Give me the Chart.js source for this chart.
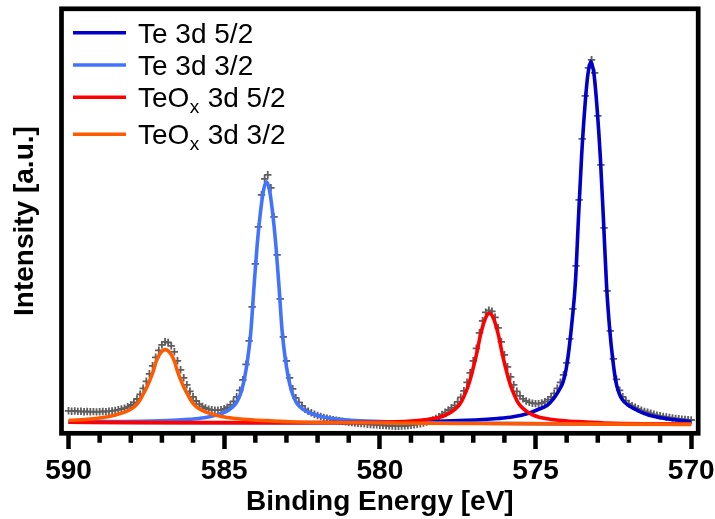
<!DOCTYPE html>
<html>
<head>
<meta charset="utf-8">
<script src="https://cdn.jsdelivr.net/npm/chart.js@4.4.1/dist/chart.umd.min.js"></script>
<style>
  html, body { margin: 0; padding: 0; background: #fff; }
  #wrap { width: 715px; height: 519px; }
</style>
</head>
<body>
<div id="wrap"><canvas id="xps" width="715" height="519"></canvas></div>
<script>
// Te 3d XPS spectrum, measured points every 0.1 eV from 590.0 down to 570.0
const dataStartEV = 590.0;
const dataStepEV = 0.1;
const measured = [
  20.0, 19.6, 19.8, 19.4, 19.5, 19.1, 19.3, 19.0, 19.2, 18.9,
  19.1, 19.3, 19.2, 19.6, 19.9, 20.4, 21.0, 21.8, 22.7, 24.0,
  25.8, 28.3, 31.8, 36.5, 42.5, 49.5, 57.0, 65.0, 73.5, 80.5,
  86.0, 89.0, 88.3, 85.0, 79.0, 70.0, 61.0, 53.0, 46.0, 39.5,
  34.0, 29.8, 26.6, 24.4, 22.8, 21.7, 21.0, 20.6, 20.6, 21.0,
  22.0, 23.6, 26.0, 29.5, 34.0, 40.5, 51.0, 66.5, 90.0, 124.0,
  167, 204, 236, 252, 256, 243, 214, 176, 132, 94,
  70, 53, 42, 33, 28.5, 25.0, 21.5, 19.5, 18.0, 16.5,
  15.3, 14.3, 13.4, 12.6, 11.9, 11.2, 10.6, 10.0, 9.5, 9.0,
  8.6, 8.2, 7.8, 7.5, 7.2, 6.9, 6.6, 6.3, 6.1, 5.9,
  5.6, 5.4, 5.2, 5.0, 4.8, 4.6, 4.6, 4.7, 4.9, 5.2,
  5.6, 6.0, 6.5, 7.1, 7.8, 8.7, 9.7, 10.9, 12.3, 14.0,
  16.3, 18.5, 20.8, 23.0, 25.5, 29.0, 33.5, 40.0, 48.5, 58.0,
  70.0, 82.5, 98.0, 110.0, 118.5, 120.5, 119.5, 113.5, 103.0, 89.0,
  76.0, 64.0, 54.0, 46.0, 39.5, 35.0, 32.0, 29.8, 28.5, 27.6,
  27.2, 27.2, 27.8, 29.2, 31.2, 34.0, 37.5, 42.5, 48.5, 56.0,
  68, 92, 122, 165, 231, 292, 335, 363, 371, 358,
  315, 266, 203, 140, 100, 72, 51.5, 40.5, 34.0, 30.2,
  27.0, 25.2, 23.5, 22.0, 20.5, 19.4, 18.5, 17.5, 16.5, 15.7,
  15.0, 14.4, 13.8, 13.3, 12.8, 12.4, 12.0, 11.6, 11.3, 11.0,
  10.8
];

// fitted components (energy in eV, intensity a.u.)
const te52E = [570.0, 570.72, 571.22, 571.52, 571.82, 572.02, 572.22, 572.32, 572.42, 572.52,
  572.62, 572.72, 572.82, 572.92, 573.02, 573.12, 573.22, 573.32, 573.42, 573.52,
  573.62, 573.72, 573.82, 573.92, 574.02, 574.12, 574.22, 574.42, 574.62, 574.92,
  575.22, 575.72, 576.22, 577.22, 579.22, 583.22, 590.0];
const te52 = [9.0, 11.8, 14.5, 17.5, 22.0, 25.5, 31.5, 38.0, 49.2, 71.5,
  102.5, 146.0, 212.5, 274.5, 321.5, 356.0, 369.5, 356.0, 321.7, 274.6,
  213.0, 147.9, 111.7, 82.8, 61.0, 48.4, 41.8, 32.1, 25.6, 21.3,
  17.6, 14.0, 12.3, 10.4, 8.7, 8.1, 8.5];

const te32E = [570.0, 573.64, 577.64, 579.64, 580.64, 581.14, 581.64, 581.94, 582.24, 582.44,
  582.64, 582.74, 582.84, 582.94, 583.04, 583.14, 583.24, 583.34, 583.44, 583.54,
  583.64, 583.74, 583.84, 583.94, 584.04, 584.14, 584.24, 584.34, 584.44, 584.54,
  584.64, 584.84, 585.04, 585.34, 585.64, 586.14, 586.64, 587.64, 589.64, 590.0];
const te32 = [6.5, 6.9, 7.8, 8.8, 9.9, 10.9, 12.7, 14.8, 17.6, 20.9,
  26.5, 31.8, 40.2, 53.4, 72.7, 100.3, 144.8, 185.7, 217.0, 240.0,
  249.0, 240.0, 217.2, 186.0, 145.0, 100.5, 73.0, 53.6, 40.4, 32.0,
  26.7, 21.1, 17.8, 15.1, 13.0, 11.4, 10.4, 9.5, 9.1, 9.0];

const teox52E = [570.0, 570.48, 572.48, 573.48, 573.98, 574.48, 574.68, 574.88, 575.08, 575.28,
  575.48, 575.58, 575.68, 575.78, 575.88, 575.98, 576.08, 576.18, 576.28, 576.38,
  576.48, 576.58, 576.68, 576.78, 576.88, 576.98, 577.08, 577.18, 577.28, 577.38,
  577.48, 577.68, 577.88, 578.08, 578.28, 578.48, 578.98, 579.48, 580.48, 582.48,
  586.48, 590.0];
const teox52 = [6.8, 6.9, 7.6, 9.0, 9.8, 11.3, 12.3, 13.6, 15.8, 19.3,
  24.8, 29.2, 35.8, 43.5, 53.4, 65.5, 78.7, 94.1, 106.2, 114.5,
  117.5, 114.5, 106.2, 94.1, 78.7, 65.5, 53.4, 43.5, 35.8, 29.2,
  24.8, 19.3, 15.8, 13.6, 12.3, 11.3, 9.8, 9.0, 8.4, 8.1,
  8.2, 8.5];

const teox32E = [570.0, 576.89, 580.89, 582.89, 583.89, 584.39, 584.89, 585.09, 585.29, 585.49,
  585.69, 585.89, 585.99, 586.09, 586.19, 586.29, 586.39, 586.49, 586.59, 586.69,
  586.79, 586.89, 586.99, 587.09, 587.19, 587.29, 587.39, 587.49, 587.59, 587.69,
  587.79, 587.89, 588.09, 588.29, 588.49, 588.69, 588.89, 589.39, 589.89, 590.0];
const teox32 = [6.4, 7.25, 8.1, 9.0, 10.6, 11.5, 13.3, 14.4, 15.9, 17.7,
  20.2, 23.9, 27.2, 31.6, 37.4, 43.2, 50.5, 58.6, 68.8, 75.7,
  79.7, 81.2, 79.7, 75.7, 68.8, 58.6, 50.5, 43.2, 37.4, 31.6,
  27.2, 23.9, 20.2, 17.7, 15.9, 14.4, 13.3, 11.5, 10.6, 10.5];

const seriesNames = ['Te 3d 5/2', 'Te 3d 3/2', 'TeO_x 3d 5/2', 'TeO_x 3d 3/2'];
const seriesColors = ['#0000c8', '#4173ff', '#ff0000', '#ff5a00'];
const xTicks = [590, 585, 580, 575, 570];
const xMinorTicks = [589, 588, 587, 586, 584, 583, 582, 581, 579, 578, 577, 576, 574, 573, 572, 571];

const family = '"Liberation Sans", Arial, sans-serif';

function pairs(xs, ys) {
  return xs.map((x, i) => ({ x: x, y: ys[i] })).reverse();
}

const measuredPts = measured.map((v, i) => ({ x: +(dataStartEV - i * dataStepEV).toFixed(1), y: v }));

function fitSet(i, xs, ys) {
  return {
    label: seriesNames[i],
    data: pairs(xs, ys),
    showLine: true,
    borderColor: seriesColors[i],
    backgroundColor: seriesColors[i],
    borderWidth: 3.6,
    pointRadius: 0,
    cubicInterpolationMode: 'monotone',
    order: 4 - i
  };
}

// frame round the plot area + minor ticks
const framePlugin = {
  id: 'frame',
  afterDatasetsDraw(chart) {
    const { ctx, chartArea: a } = chart;
    const x = chart.scales.x;
    ctx.save();
    ctx.strokeStyle = '#000';
    ctx.lineWidth = 4.7;
    ctx.strokeRect(a.left, a.top, a.right - a.left, a.bottom - a.top);
    ctx.lineWidth = 4.5;
    ctx.beginPath();
    xMinorTicks.forEach(v => {
      const px = x.getPixelForValue(v);
      ctx.moveTo(px, a.bottom);
      ctx.lineTo(px, a.bottom + 9.5);
    });
    ctx.stroke();
    ctx.restore();
  }
};

// legend with subscript x
const legendPlugin = {
  id: 'subLegend',
  afterDatasetsDraw(chart) {
    const { ctx } = chart;
    const rowsY = [32.7, 65, 97.3, 134.3];
    ctx.save();
    seriesNames.forEach((name, i) => {
      const y = rowsY[i];
      ctx.strokeStyle = seriesColors[i];
      ctx.lineWidth = 3.4;
      ctx.beginPath();
      ctx.moveTo(73, y);
      ctx.lineTo(126, y);
      ctx.stroke();

      ctx.fillStyle = '#000';
      ctx.textBaseline = 'alphabetic';
      ctx.textAlign = 'left';
      let tx = 138;
      const base = y + 9.8;
      const parts = name.split('_');
      ctx.font = '28px ' + family;
      ctx.fillText(parts[0], tx, base);
      tx += ctx.measureText(parts[0]).width;
      if (parts.length > 1) {
        const sub = parts[1].charAt(0);
        const rest = parts[1].slice(1);
        ctx.font = '19px ' + family;
        ctx.fillText(sub, tx + 0.5, base + 6);
        tx += ctx.measureText(sub).width + 1;
        ctx.font = '28px ' + family;
        ctx.fillText(rest, tx, base);
      }
    });
    ctx.restore();
  }
};

const ctx = document.getElementById('xps').getContext('2d');
new Chart(ctx, {
  type: 'scatter',
  data: {
    datasets: [
      {
        label: 'data',
        data: measuredPts,
        showLine: false,
        pointStyle: 'cross',
        pointRadius: 3.7,
        pointBorderWidth: 1.8,
        borderColor: '#5e5e5e',
        backgroundColor: '#5e5e5e',
        order: 5
      },
      fitSet(0, te52E, te52),
      fitSet(1, te32E, te32),
      fitSet(2, teox52E, teox52),
      fitSet(3, teox32E, teox32)
    ]
  },
  options: {
    responsive: false,
    animation: false,
    events: [],
    layout: { padding: { top: 8.8, right: 16.8, left: 0, bottom: 0 } },
    plugins: { legend: { display: false }, tooltip: { enabled: false } },
    scales: {
      x: {
        type: 'linear',
        reverse: true,
        min: 569.775,
        max: 590.225,
        afterBuildTicks: s => { s.ticks = xTicks.map(v => ({ value: v })); },
        afterFit: s => { s.height = 85.7; s.paddingLeft = 0; s.paddingRight = 0; },
        border: { display: false },
        grid: { drawOnChartArea: false, tickLength: 15.7, tickWidth: 4.5, color: '#000' },
        ticks: {
          color: '#000',
          padding: 5,
          maxRotation: 0,
          font: { family: family, size: 28, weight: 'bold' },
          callback: v => String(v)
        },
        title: {
          display: true,
          text: 'Binding Energy [eV]',
          color: '#000',
          padding: 0,
          font: { family: family, size: 28, weight: 'bold' }
        }
      },
      y: {
        min: -2.5,
        max: 422,
        afterFit: s => { s.width = 61.5; s.paddingTop = 0; s.paddingBottom = 0; },
        border: { display: false },
        grid: { display: false },
        ticks: { display: false },
        title: {
          display: true,
          text: 'Intensity [a.u.]',
          color: '#000',
          padding: { top: 8 },
          font: { family: family, size: 28, weight: 'bold' }
        }
      }
    }
  },
  plugins: [framePlugin, legendPlugin]
});
</script>
</body>
</html>
